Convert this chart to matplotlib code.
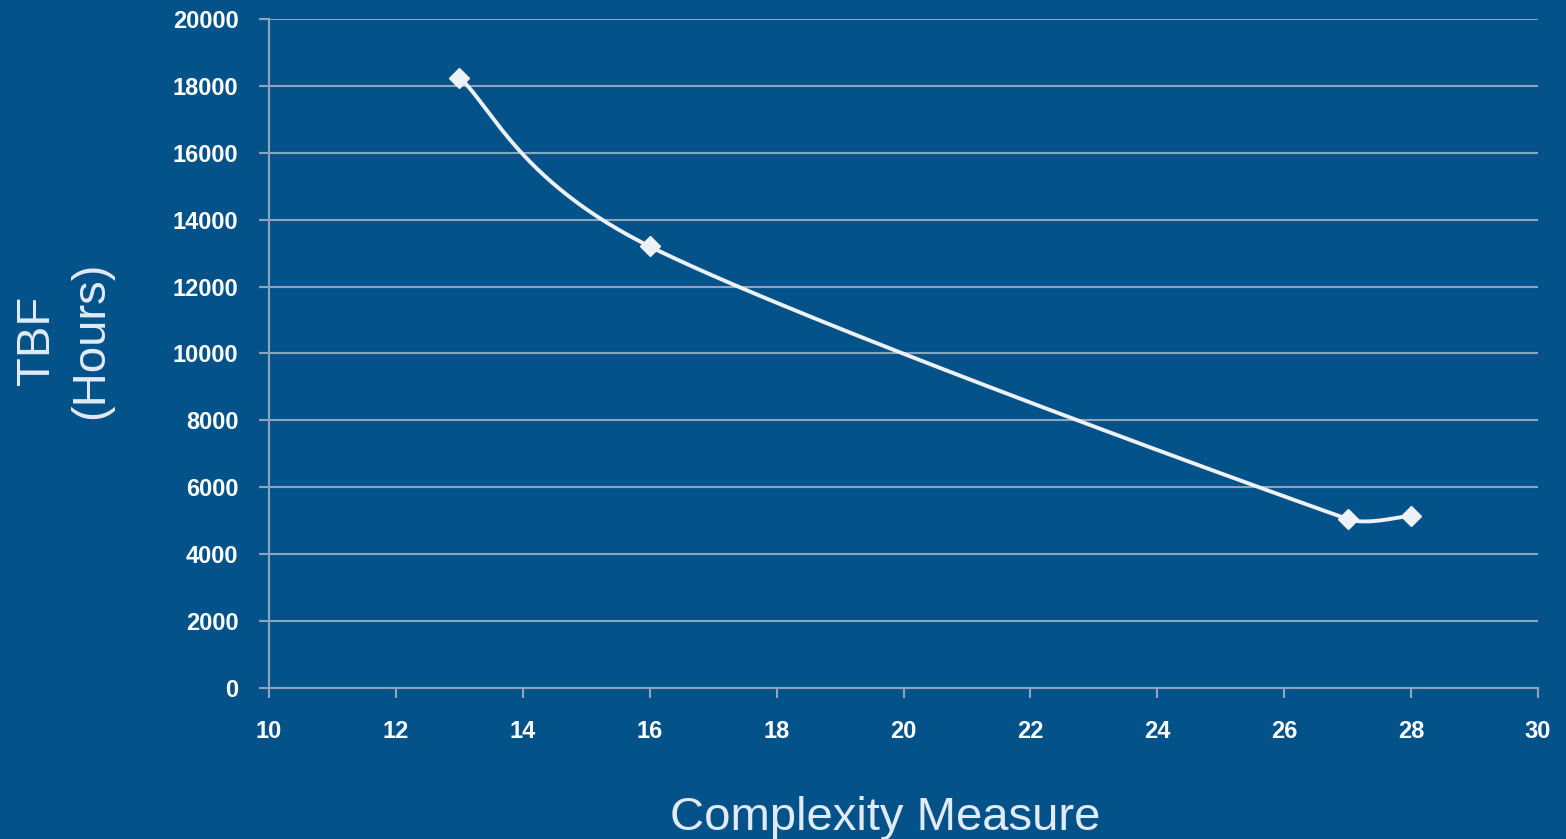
import numpy as np
import matplotlib
matplotlib.use("Agg")
import matplotlib.pyplot as plt

complexity = [13, 16, 27, 28]
tbf_hours = [18250, 13200, 5050, 5150]
x_ticks = list(range(10, 31, 2))
y_ticks = list(range(0, 20001, 2000))

bg = "#03538A"
grid_col = "#8FA3BC"
line_col = "#EEF1F6"
text_col = "#E2EBF5"

plt.rcParams["font.family"] = "Liberation Sans"

fig = plt.figure(figsize=(15.66, 8.39), dpi=100, facecolor=bg)
ax = fig.add_axes([0.1718, 0.18, 0.8103, 0.7974])
ax.set_facecolor(bg)


def clamp(d, seg):
    # keep handles from running past short segments
    lim = seg * 0.6
    n = np.hypot(*d)
    if n > lim:
        return d * lim / n * np.sqrt(lim / n)
    return d


def smooth_curve(xs, ys, n=60):
    # smoothed line like the spreadsheet one, worked out in pixel space
    sx = 1269 / 20.0
    sy = 669 / 20000.0
    p = np.column_stack([np.array(xs, float) * sx, np.array(ys, float) * sy])
    m = len(p)
    out = []
    t = np.linspace(0, 1, n)[:, None]
    for i in range(m - 1):
        seg = np.hypot(*(p[i + 1] - p[i]))
        d1 = clamp((p[i + 1] - p[max(i - 1, 0)]) / 6.0, seg)
        d2 = clamp((p[min(i + 2, m - 1)] - p[i]) / 6.0, seg)
        c1 = p[i] + d1
        c2 = p[i + 1] - d2
        out.append((1 - t) ** 3 * p[i] + 3 * (1 - t) ** 2 * t * c1
                   + 3 * (1 - t) * t ** 2 * c2 + t ** 3 * p[i + 1])
    out = np.vstack(out)
    return out[:, 0] / sx, out[:, 1] / sy


ax.set_xlim(10, 30)
ax.set_ylim(0, 20000)
ax.set_xticks(x_ticks)
ax.set_yticks(y_ticks)
ax.grid(axis="y", color=grid_col, linewidth=1.5)
ax.set_axisbelow(True)

for side in ["top", "right"]:
    ax.spines[side].set_visible(False)
for side in ["left", "bottom"]:
    ax.spines[side].set_color(grid_col)
    ax.spines[side].set_linewidth(1.5)

ax.tick_params(axis="both", colors=grid_col, width=1.5, length=7,
               labelcolor="white", labelsize=17)
ax.tick_params(axis="x", pad=16)
ax.tick_params(axis="y", pad=15)
for lab in ax.get_xticklabels() + ax.get_yticklabels():
    lab.set_fontweight("bold")

cx, cy = smooth_curve(complexity, tbf_hours)
ax.plot(cx, cy, color=line_col, linewidth=2.8, solid_capstyle="round")
ax.plot(complexity, tbf_hours, linestyle="none", marker="D", markersize=10,
        color=line_col, markeredgecolor=line_col)

fig.text(0.565, 0.025, "Complexity Measure", color=text_col, fontsize=34,
         ha="center", va="center")
fig.text(0.041, 0.594, "TBF\n(Hours)", color=text_col, fontsize=34,
         ha="center", va="center", rotation=90,
         multialignment="center", linespacing=1.3)

fig.savefig("out.png", dpi=100, facecolor=bg)
